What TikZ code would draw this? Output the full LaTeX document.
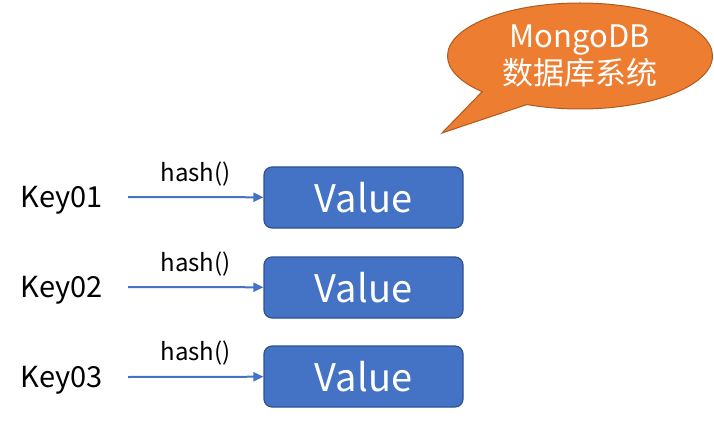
\documentclass[tikz,border=0pt]{standalone}
\usepackage{fontspec}
\setmainfont{Noto Sans CJK SC}
\usepackage{tikz}
\usetikzlibrary{arrows.meta,shapes.callouts}

\definecolor{valblue}{HTML}{4472C4}
\definecolor{valedge}{HTML}{2F528F}
\definecolor{bubble}{HTML}{ED7D31}
\definecolor{bubedge}{HTML}{AE5A21}

\tikzset{
  valbox/.style={draw=valedge, line width=1.2pt, fill=valblue, rounded corners=8pt,
    minimum width=199pt, minimum height=61pt, text=white, font=\fontsize{38}{38}\selectfont},
  keytxt/.style={font=\fontsize{29}{29}\selectfont},
  hashtxt/.style={font=\fontsize{24}{24}\selectfont},
  link/.style={draw=valblue, line width=2pt, -{Triangle[length=10pt,width=9pt]}}
}

\begin{document}
\begin{tikzpicture}[x=1pt,y=-1pt]
        \useasboundingbox (0,0) rectangle (714,422);
        \node[keytxt] (k1) at (62,200) {Key01};
        \node[keytxt] (k2) at (62,290) {Key02};
        \node[keytxt] (k3) at (62,380) {Key03};
        \node[valbox] (v1) at (363.5,197.5) {Value};
        \node[valbox] (v2) at (363.5,287.5) {Value};
        \node[valbox] (v3) at (363.5,376.5) {Value};
        \coordinate (s1) at (128,197);
        \coordinate (s2) at (128,287);
        \coordinate (s3) at (128,377);
        \path[link] (s1) -- node[hashtxt, above=7pt] {hash()} (v1);
        \path[link] (s2) -- node[hashtxt, above=7pt] {hash()} (v2);
        \path[link] (s3) -- node[hashtxt, above=7pt] {hash()} (v3);
        \coordinate (tip) at (442,133);
        \node[ellipse callout, draw=bubedge, line width=1pt, fill=bubble, text=white,
              minimum width=265pt, minimum height=106pt, inner sep=0pt,
              callout absolute pointer={(tip)}, callout pointer arc=24,
              align=center, font=\fontsize{31}{37}\selectfont] (db) at (580,56)
              {MongoDB\\数据库系统};
    \end{tikzpicture}
\end{document}
